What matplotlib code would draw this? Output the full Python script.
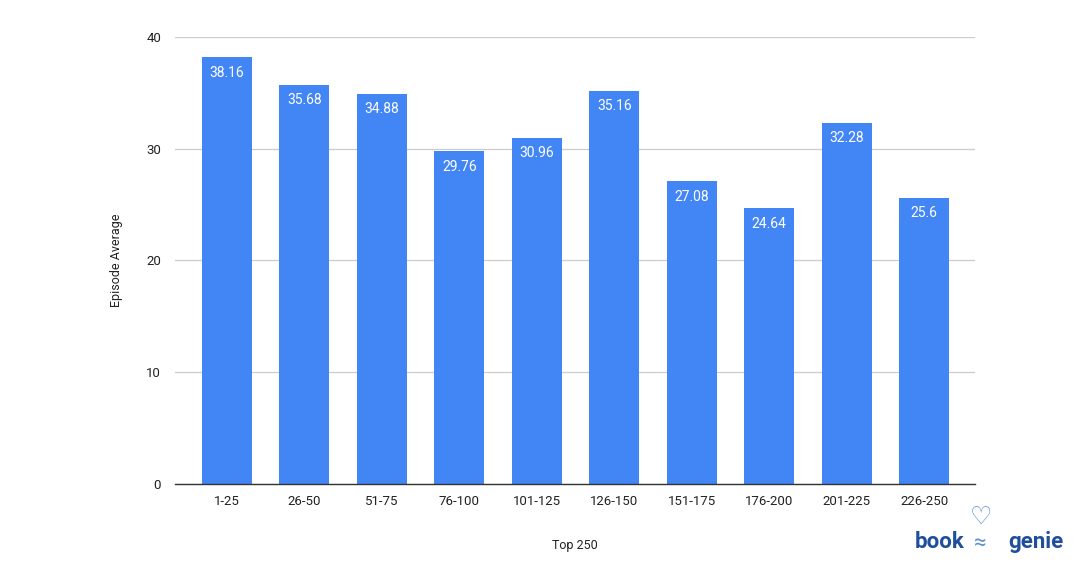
import matplotlib
matplotlib.use("Agg")
import matplotlib.pyplot as plt

# data
categories = ["1-25", "26-50", "51-75", "76-100", "101-125",
              "126-150", "151-175", "176-200", "201-225", "226-250"]
averages = [38.16, 35.68, 34.88, 29.76, 30.96, 35.16, 27.08, 24.64, 32.28, 25.6]
value_labels = ["38.16", "35.68", "34.88", "29.76", "30.96",
                "35.16", "27.08", "24.64", "32.28", "25.6"]
y_ticks = [0, 10, 20, 30, 40]

plt.rcParams['font.family'] = ['Roboto', 'DejaVu Sans']

fig = plt.figure(figsize=(10.8, 5.66), dpi=100)
ax = fig.add_axes([0.162, 0.145, 0.741, 0.79])

xs = list(range(len(categories)))
bars = ax.bar(xs, averages, width=0.646, color="#4285F4", zorder=3)

for x, v, lab in zip(xs, averages, value_labels):
    ax.text(x, v - 0.75, lab, ha="center", va="top", color="white", fontsize=10, zorder=4)

ax.set_xlim(-0.67, 9.66)
ax.set_ylim(0, 40)
ax.set_yticks(y_ticks)
ax.set_xticks(xs)
ax.set_xticklabels(categories)
ax.tick_params(axis="both", length=0, labelsize=9.5, colors="#222222")
ax.tick_params(axis="x", pad=8)
ax.tick_params(axis="y", pad=10)
ax.grid(axis="y", color="#cccccc", linewidth=0.9, zorder=0)

for s in ["top", "right", "left"]:
    ax.spines[s].set_visible(False)
ax.spines["bottom"].set_color("#333333")
ax.spines["bottom"].set_linewidth(1.0)
ax.spines["bottom"].set_zorder(5)

ax.set_ylabel("Episode Average", fontsize=9, color="#222222", labelpad=17)
ax.set_xlabel("Top 250", fontsize=9, color="#222222", labelpad=22)

# logo
fig.text(0.847, 0.032, "book", fontsize=16, fontweight="bold", color="#1f4e9c", ha="left", va="baseline")
fig.text(0.934, 0.032, "genie", fontsize=16, fontweight="bold", color="#1f4e9c", ha="left", va="baseline")
fig.text(0.908, 0.075, "\u2661", fontsize=18, color="#5b8fd0", ha="center", va="baseline")
fig.text(0.908, 0.030, "\u2248", fontsize=16, color="#5b8fd0", ha="center", va="baseline")

fig.savefig("out.png", dpi=100)
